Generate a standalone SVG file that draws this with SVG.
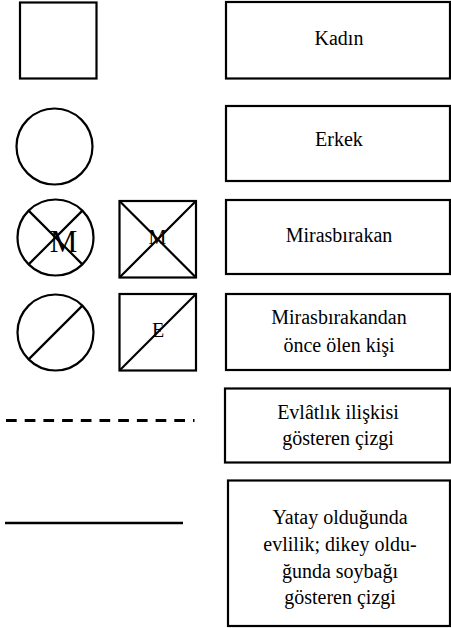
<svg xmlns="http://www.w3.org/2000/svg" width="451" height="628" viewBox="0 0 451 628">
<style>
.s{fill:none;stroke:#000;stroke-width:2.2}
.b{fill:#fff;stroke:#000;stroke-width:2.2}
.t{font-family:'Times New Roman','Liberation Serif',serif;font-size:20px;fill:#000;text-anchor:middle}
</style>
<rect width="451" height="628" fill="#fff"/>
<g id="sym-kadin"><rect class="s" x="20" y="2.5" width="76.5" height="76"/></g>
<g id="sym-erkek"><circle class="s" cx="54.5" cy="146.5" r="38"/></g>
<g id="sym-mirasbirakan-circle">
<circle class="s" cx="55.5" cy="237.5" r="38"/>
<line class="s" x1="28.6" y1="210.6" x2="82.4" y2="264.4"/>
<line class="s" x1="28.6" y1="264.4" x2="82.4" y2="210.6"/>
<text class="t" x="63.5" y="251.5" style="font-size:31px">M</text>
</g>
<g id="sym-mirasbirakan-square">
<rect class="s" x="119.5" y="201" width="76.5" height="76.5"/>
<line class="s" x1="119.5" y1="201" x2="196" y2="277.5"/>
<line class="s" x1="119.5" y1="277.5" x2="196" y2="201"/>
<text class="t" x="157.5" y="244">M</text>
</g>
<g id="sym-once-olen-circle">
<circle class="s" cx="55.5" cy="332.5" r="38"/>
<line class="s" x1="28.6" y1="359.4" x2="82.4" y2="305.6"/>
</g>
<g id="sym-once-olen-square">
<rect class="s" x="119.5" y="294" width="76.5" height="76.5"/>
<line class="s" x1="119.5" y1="370.5" x2="196" y2="294"/>
<text class="t" x="158" y="336.5">E</text>
</g>
<g id="connectors">
<line x1="6" y1="420.5" x2="194.5" y2="420.5" stroke="#000" stroke-width="3" stroke-dasharray="10.7 8"/>
<line x1="5" y1="523" x2="183" y2="523" stroke="#000" stroke-width="2.5"/>
</g>
<g id="label-kadin"><rect class="b" x="226" y="2" width="224" height="76.5"/><g><text class="t" x="339" y="45">Kadın</text></g></g>
<g id="label-erkek"><rect class="b" x="226" y="106" width="224" height="75"/><g><text class="t" x="339" y="145.5">Erkek</text></g></g>
<g id="label-mirasbirakan"><rect class="b" x="226" y="200" width="224" height="74"/><g><text class="t" x="339" y="241.5">Mirasbırakan</text></g></g>
<g id="label-once-olen"><rect class="b" x="226" y="294" width="224" height="76"/><g><text class="t" x="339" y="324">Mirasbırakandan</text><text class="t" x="339" y="352">önce ölen kişi</text></g></g>
<g id="label-evlatlik"><rect class="b" x="225" y="388.5" width="225" height="74"/><g><text class="t" x="338" y="419">Evlâtlık ilişkisi</text><text class="t" x="338" y="444.5">gösteren çizgi</text></g></g>
<g id="label-yatay"><rect class="b" x="228" y="480.5" width="222" height="145.5"/><g><text class="t" x="340" y="524">Yatay olduğunda</text><text class="t" x="340" y="551">evlilik; dikey oldu-</text><text class="t" x="340" y="578">ğunda soybağı</text><text class="t" x="340" y="603.5">gösteren çizgi</text></g></g>
</svg>
